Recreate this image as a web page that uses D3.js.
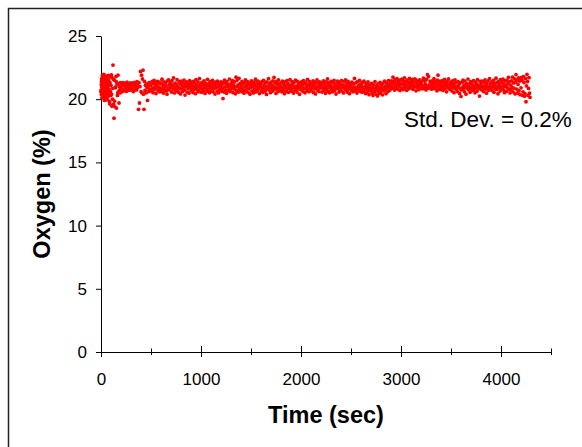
<!DOCTYPE html>
<html>
<head>
<meta charset="utf-8">
<script src="https://cdnjs.cloudflare.com/ajax/libs/d3/7.8.5/d3.min.js"></script>
<style>
  body { margin: 0; background: #fff; }
  text { font-family: Arial, "Liberation Sans", sans-serif; }
</style>
</head>
<body>
<div id="chart"></div>
<script>
// Oxygen sensor stability run

var svgWidth = 582;
var svgHeight = 447;

var margin = { top: 36, left: 101 };
var width = 450;
var height = 316;

// logger reading interval (sec) and readings (%)
var sampleInterval = 5;
var o2 = [
  20.6, 21.4, 20.1, 21.9, 20.4, 20.9, 21.6, 19.9, 20.7, 21.2, 20.3, 21.8, 20.5, 21.0, 20.2, 21.5, 20.8, 19.8, 21.3, 20.6,
  21.1, 20.4, 21.7, 20.0, 22.7, 19.6, 18.5, 21.5, 19.4, 20.9, 21.8, 19.3, 21.2, 20.3, 21.9, 20.6, 19.7, 21.0, 20.5, 21.3,
  20.85, 21.22, 20.58, 21.05, 21.31, 20.74, 21.12, 20.66, 21.27, 20.93, 21.08, 20.62, 21.35, 20.81, 20.97, 21.24, 20.70, 21.15, 20.88, 21.29,
  20.92, 21.18, 20.69, 21.26, 20.95, 20.60, 21.10, 21.33, 20.77, 21.02, 21.21, 20.73, 21.38, 20.90, 21.06, 19.2, 21.3, 19.7, 21.0, 22.2,
  20.6, 21.9, 20.5, 21.6, 22.3, 20.4, 19.2, 21.4, 20.7, 21.1, 20.5, 21.2, 20.9, 19.9, 21.0, 20.6, 21.3, 20.8, 21.1, 20.7,
  21.12, 20.64, 21.38, 20.87, 20.52, 21.25, 21.49, 20.78, 21.03, 21.31, 20.45, 21.18, 20.92, 21.41, 20.69, 21.27, 20.98, 20.58, 21.35, 20.84,
  20.61, 21.22, 21.58, 20.81, 21.07, 20.49, 21.36, 20.95, 20.71, 21.29, 21.10, 20.66, 20.40, 21.44, 20.89, 21.52, 20.74, 21.16, 20.86, 21.33,
  21.04, 20.57, 21.47, 21.14, 20.80, 21.68, 20.97, 20.50, 21.26, 20.76, 21.19, 20.90, 21.55, 20.63, 21.01, 20.54, 21.39, 20.85, 21.23, 20.42,
  21.43, 20.79, 21.09, 20.60, 21.30, 20.93, 21.51, 20.72, 20.33, 21.17, 20.99, 21.37, 20.56, 21.24, 20.83, 21.11, 20.48, 21.46, 20.95, 21.21,
  20.68, 21.34, 20.91, 21.06, 20.53, 21.40, 20.77, 21.28, 21.00, 20.44, 21.54, 20.88, 21.13, 20.70, 21.36, 20.59, 21.02, 21.63, 20.82, 21.20,
  20.96, 20.55, 21.32, 20.78, 21.15, 20.67, 21.45, 20.99, 20.46, 21.27, 20.87, 21.08, 20.62, 21.57, 20.75, 21.22, 21.01, 20.51, 21.38, 20.90,
  21.18, 20.66, 20.97, 21.48, 20.58, 21.29, 20.84, 21.05, 20.41, 21.35, 20.92, 21.21, 20.64, 21.42, 20.98, 20.50, 21.26, 20.76, 21.10, 20.89,
  21.37, 20.63, 21.12, 20.86, 20.05, 21.30, 20.57, 21.50, 20.97, 20.73, 21.24, 20.47, 21.40, 21.01, 20.69, 21.16, 20.90, 21.59, 20.61, 21.06,
  20.79, 21.28, 20.94, 21.46, 20.52, 21.11, 20.80, 21.36, 20.96, 20.43, 21.74, 20.70, 21.49, 20.99, 21.14, 20.56, 21.65, 20.85, 21.23, 20.65,
  21.05, 20.60, 21.41, 20.88, 21.20, 20.71, 20.48, 21.33, 20.97, 21.53, 20.67, 21.09, 20.91, 21.38, 20.54, 21.27, 20.82, 21.12, 20.40, 21.31,
  20.92, 21.44, 20.64, 21.17, 21.00, 20.50, 21.35, 20.77, 21.08, 21.58, 20.59, 21.25, 20.95, 20.69, 21.42, 20.86, 21.13, 20.45, 21.30, 20.98,
  21.19, 20.68, 21.39, 20.93, 20.55, 21.48, 20.84, 21.14, 20.62, 21.32, 20.97, 20.38, 21.36, 20.79, 21.04, 21.62, 20.73, 21.22, 20.90, 20.52,
  21.34, 20.88, 21.09, 20.65, 21.45, 20.99, 21.72, 20.76, 21.27, 20.94, 20.46, 21.40, 20.83, 21.15, 20.61, 21.52, 20.90, 21.24, 20.67, 21.03,
  20.86, 21.31, 20.58, 21.43, 20.96, 20.72, 21.16, 20.44, 21.37, 20.91, 21.07, 20.63, 21.47, 20.85, 21.25, 20.54, 21.12, 20.95, 21.55, 20.78,
  21.10, 20.62, 21.38, 20.89, 21.21, 20.49, 21.33, 20.98, 20.70, 21.50, 20.87, 21.04, 20.57, 21.41, 20.81, 21.18, 20.93, 20.39, 21.29, 21.01,
  20.74, 21.36, 20.96, 21.13, 20.60, 21.46, 20.84, 21.23, 20.51, 21.32, 20.92, 21.06, 20.67, 21.56, 20.80, 21.15, 20.58, 21.39, 20.99, 20.86,
  21.26, 20.66, 21.08, 20.93, 21.44, 20.53, 21.19, 20.82, 21.35, 20.42, 21.01, 20.90, 21.52, 20.71, 21.24, 20.97, 20.60, 21.37, 20.88, 21.14,
  20.98, 21.30, 20.56, 21.10, 20.85, 21.45, 20.68, 21.21, 20.94, 20.47, 21.36, 20.79, 21.05, 21.60, 20.63, 21.28, 20.95, 20.51, 21.17, 20.87,
  21.40, 20.76, 21.02, 20.59, 21.31, 20.91, 21.49, 20.69, 21.12, 20.97, 20.41, 21.25, 20.83, 21.43, 20.92, 21.08, 20.57, 21.34, 20.74, 21.19,
  20.89, 21.47, 20.64, 21.14, 20.99, 20.50, 21.38, 20.86, 21.03, 21.53, 20.70, 21.22, 20.95, 20.55, 21.41, 20.80, 21.11, 20.44, 21.27, 20.93,
  21.13, 20.69, 21.35, 20.90, 20.58, 21.20, 20.81, 21.64, 20.96, 20.65, 21.30, 20.88, 20.49, 21.39, 20.78, 21.07, 20.92, 21.48, 20.62, 21.18,
  20.84, 21.09, 20.54, 21.32, 20.91, 20.66, 21.42, 20.77, 20.99, 20.45, 21.24, 20.82, 21.04, 20.57, 21.36, 20.87, 20.36, 21.15, 20.71, 20.97,
  20.70, 21.25, 20.50, 20.93, 20.30, 21.16, 20.81, 20.59, 21.38, 20.88, 20.40, 21.06, 20.74, 20.26, 21.21, 20.63, 20.95, 20.47, 21.33, 20.85,
  20.58, 21.10, 20.82, 20.35, 21.26, 20.90, 20.66, 21.43, 20.76, 21.01, 20.44, 21.30, 20.86, 21.14, 20.61, 21.47, 20.94, 21.19, 20.72, 21.37,
  21.06, 21.44, 20.86, 21.23, 21.74, 20.95, 21.40, 20.72, 21.55, 21.12, 20.89, 21.31, 21.63, 20.80, 21.19, 21.48, 20.99, 21.28, 20.68, 21.52,
  21.15, 20.85, 21.58, 21.21, 20.76, 21.42, 21.05, 21.69, 20.92, 21.33, 21.11, 20.70, 21.50, 21.00, 21.37, 20.81, 21.26, 21.65, 20.94, 21.17,
  21.41, 20.90, 21.18, 21.56, 20.78, 21.08, 21.35, 20.97, 21.61, 21.04, 20.66, 21.46, 21.22, 20.91, 21.39, 21.10, 20.75, 21.53, 21.02, 21.29,
  20.96, 21.37, 21.14, 20.82, 21.49, 21.66, 21.06, 20.87, 21.43, 21.20, 20.73, 21.57, 21.00, 21.95, 20.85, 21.78, 21.12, 20.93, 21.40, 21.05,
  21.19, 20.79, 21.45, 21.03, 20.90, 21.32, 21.62, 20.83, 21.15, 21.38, 20.96, 21.09, 20.67, 21.51, 21.90, 21.24, 20.86, 21.41, 21.01, 20.76,
  21.27, 20.94, 21.47, 21.07, 20.70, 21.36, 20.98, 21.56, 20.81, 21.13, 21.25, 20.58, 21.42, 20.95, 21.09, 21.60, 20.84, 21.20, 20.77, 21.34,
  20.97, 21.12, 20.65, 21.44, 20.89, 21.23, 20.52, 21.05, 21.53, 20.86, 21.31, 20.74, 21.00, 20.60, 21.39, 20.93, 21.17, 20.46, 21.28, 20.82,
  20.22, 20.73, 21.35, 20.94, 21.50, 20.79, 21.11, 20.58, 21.43, 20.99, 20.40, 21.24, 20.88, 21.04, 21.59, 20.75, 21.19, 20.96, 20.55, 21.38,
  20.87, 21.29, 20.69, 21.12, 20.98, 21.47, 20.78, 21.06, 20.51, 21.34, 20.92, 21.21, 20.63, 21.55, 20.90, 21.09, 20.82, 20.25, 21.40, 20.99,
  21.16, 20.74, 21.42, 20.95, 21.04, 20.60, 21.31, 20.87, 21.52, 20.80, 21.10, 20.48, 21.27, 20.94, 21.45, 20.71, 21.00, 21.62, 20.86, 21.22,
  20.91, 21.36, 20.68, 21.08, 20.99, 21.49, 20.55, 21.25, 20.83, 21.05, 21.66, 20.77, 21.30, 20.97, 20.43, 21.41, 20.89, 21.15, 20.64, 21.54,
  21.02, 20.81, 21.33, 20.93, 21.58, 20.72, 21.18, 20.52, 21.44, 20.98, 21.09, 20.62, 21.50, 20.90, 21.26, 21.73, 20.79, 21.38, 20.50, 21.11,
  20.76, 21.45, 20.96, 21.74, 20.58, 21.28, 20.88, 21.61, 20.42, 21.36, 21.95, 20.80, 21.52, 20.49, 21.17, 21.69, 20.67, 21.43, 20.36, 21.57,
  20.90, 21.72, 21.48, 20.31, 20.58, 21.78, 21.32, 20.24, 20.43, 21.63, 19.80, 21.05, 21.96, 21.40, 20.30, 20.85, 21.70, 20.47, 20.15
];

// extra fast readings logged during start-up
var startTime = [
  1, 3, 4, 6, 8, 9, 11, 13, 14, 16,
  18, 19, 21, 23, 24, 26, 28, 29, 31, 33,
  34, 36, 38, 39, 41, 43, 44, 46, 48, 49,
  51, 53, 56, 58, 61, 63, 66, 68, 71, 74,
  78, 83, 88, 93, 98, 104, 109, 116, 126, 136,
  146, 156, 168, 178, 188
];
var startO2 = [
  20.72, 21.15, 20.38, 21.62, 20.55, 20.95, 21.33, 20.12, 21.05, 20.66,
  21.48, 20.29, 20.88, 21.71, 20.47, 21.10, 20.61, 21.96, 20.80, 20.24,
  21.27, 20.53, 21.84, 20.90, 20.35, 21.40, 20.70, 20.05, 21.18, 20.58,
  21.55, 20.83, 20.18, 21.66, 20.45, 21.02, 19.95, 21.30, 20.64, 21.88,
  20.41, 21.12, 19.62, 21.75, 20.30, 21.93, 19.45, 20.86, 21.58, 19.85,
  20.98, 21.36, 20.50, 21.22, 20.74
];

var yTicks = [0, 5, 10, 15, 20, 25];
var xMajor = [0, 1000, 2000, 3000, 4000];
var xMinor = [500, 1500, 2500, 3500, 4500];
var note = "Std. Dev. = 0.2%";

var data = o2.map(function(v, i) { return { t: i * sampleInterval, v: v }; })
  .concat(startTime.map(function(t, i) { return { t: t, v: startO2[i] }; }));

var svg = d3.select("#chart")
  .append("svg")
  .attr("width", svgWidth)
  .attr("height", svgHeight);

// outer frame (runs off the picture on the right and bottom)
svg.append("rect")
  .attr("x", 8.5)
  .attr("y", 8.5)
  .attr("width", 640)
  .attr("height", 500)
  .attr("fill", "none")
  .attr("stroke", "#222")
  .attr("stroke-width", 1.5);

var chartGroup = svg.append("g")
  .attr("transform", `translate(${margin.left}, ${margin.top})`);

var xScale = d3.scaleLinear().domain([0, 4500]).range([0, width]);
var yScale = d3.scaleLinear().domain([0, 25]).range([height, 0]);

// y axis
var leftAxis = d3.axisLeft(yScale).tickValues(yTicks).tickSize(5).tickSizeOuter(0).tickPadding(9);
var gy = chartGroup.append("g").call(leftAxis);
gy.selectAll("text").attr("font-size", "17px").attr("fill", "#000")
  .style("font-family", "Arial, 'Liberation Sans', sans-serif");
gy.selectAll("line, path").attr("stroke", "#000");

// x axis, major ticks with labels
var bottomAxis = d3.axisBottom(xScale).tickValues(xMajor).tickFormat(d3.format("d"))
  .tickSize(5).tickSizeOuter(0);
var gx = chartGroup.append("g")
  .attr("transform", `translate(0, ${height})`)
  .call(bottomAxis);
gx.select(".domain").attr("stroke", "#000");
gx.selectAll(".tick line").attr("y1", -6).attr("y2", 5).attr("stroke", "#000");
gx.selectAll("text").attr("y", 33).attr("dy", 0).attr("font-size", "17px").attr("fill", "#000")
  .style("font-family", "Arial, 'Liberation Sans', sans-serif");

// x axis, minor ticks
var minorAxis = d3.axisBottom(xScale).tickValues(xMinor).tickSize(3).tickSizeOuter(0).tickFormat("");
var gm = chartGroup.append("g")
  .attr("transform", `translate(0, ${height})`)
  .call(minorAxis);
gm.select(".domain").remove();
gm.selectAll(".tick line").attr("y1", -3.5).attr("y2", 3).attr("stroke", "#000");

// points
chartGroup.append("g")
  .selectAll("circle")
  .data(data)
  .enter()
  .append("circle")
  .attr("cx", function(d) { return xScale(d.t); })
  .attr("cy", function(d) { return yScale(d.v); })
  .attr("r", 1.9)
  .style("fill", "#ff0000");

// axis titles
svg.append("text")
  .attr("x", margin.left + width / 2)
  .attr("y", 423)
  .attr("text-anchor", "middle")
  .attr("font-size", "23.5px")
  .attr("font-weight", "bold")
  .text("Time (sec)");

svg.append("text")
  .attr("transform", `translate(50, ${margin.top + height / 2}) rotate(-90)`)
  .attr("text-anchor", "middle")
  .attr("font-size", "23.5px")
  .attr("font-weight", "bold")
  .text("Oxygen (%)");

svg.append("text")
  .attr("x", 404)
  .attr("y", 127)
  .attr("font-size", "22.5px")
  .text(note);
</script>
</body>
</html>
